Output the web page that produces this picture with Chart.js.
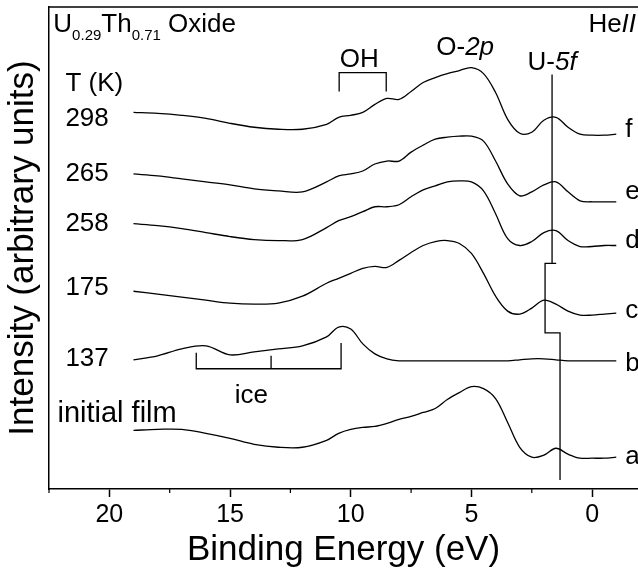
<!DOCTYPE html>
<html>
<head>
<meta charset="utf-8">
<script src="https://cdn.jsdelivr.net/npm/chart.js@4.4.1/dist/chart.umd.min.js"></script>
<style>
  html, body { margin:0; padding:0; background:#fff; }
  #wrap { width:638px; height:571px; }
</style>
</head>
<body>
<div id="wrap"><canvas id="spectra" width="638" height="571"></canvas></div>
<script>
const FONT = '"Liberation Sans", Arial, sans-serif';

// binding energy grid (eV)
const energy = [19,18,17,16,15,14,13,12,11,10.5,10,9.5,9,8.5,8,7.5,7,6.5,6,5.5,5,4.5,4,3.5,3,2.5,2,1.5,1,0.5,0,-0.5,-1];

// stacked intensities (arbitrary units), bottom to top
const spec_a = [59,60,60,56,51,45,42,42,49,56,60,62,63,66,70,73,77,81,90,97,103,101,91,67,42,32,34,41,35,31,31,31,32];
const spec_b = [130,134,141,144,135,138,141,144,153,163,161,146,136,131,129,129,129,129,129,129,129,129,129,129,130,131,131,130,129,129,129,129,129];
const spec_c = [199,196,193,190,187,186,187,194,207,212,217,222,224,223,230,238,245,249,250,247,237,217,194,179,176,182,190,186,179,175,175,176,177];
const spec_d = [267,265,262,258,254,251,250,251,263,270,274,279,284,284,286,294,301,305,309,310,309,300,277,252,245,249,258,260,250,244,244,245,245];
const spec_e = [317,315,312,309,306,302,300,299,309,315,317,320,327,330,330,339,346,352,354,355,355,350,330,307,295,299,306,309,299,290,289,289,289];
const spec_f = [379,378,376,373,368,364,362,362,367,374,376,379,387,393,392,400,409,414,418,421,424,418,399,372,358,359,371,374,364,357,356,356,357];

const letters = ['a','b','c','d','e','f'];
const temps = ['initial film','137','175','258','265','298'];

// marker lines (energy, intensity)
const u5fE = [1.66,1.66,1.49,1.95,1.95,1.33,1.33];
const u5fI = [417,227,227,227,157,157,9];
const ohE = [10.48,10.48,8.53,8.53];
const ohI = [400,419,419,400];
const iceE = [16.4,16.4,13.3,13.3,13.3,10.4,10.4];
const iceI = [137,121,121,134,121,121,147];

const xTicks = [20,15,10,5,0];
const xMinor = [22.5,17.5,12.5,7.5,2.5];

const pts = (xs, ys) => xs.map((v, i) => ({x: v, y: ys[i]}));

var spectra = [spec_a, spec_b, spec_c, spec_d, spec_e, spec_f];
var datasets = spectra.map(function(s) {
  return { data: pts(energy, s), borderColor:'#000', borderWidth:1.3, pointRadius:0, tension:0.35 };
});
[[u5fE,u5fI],[ohE,ohI],[iceE,iceI]].forEach(function(m) {
  datasets.push({ data: pts(m[0], m[1]), borderColor:'#000', borderWidth:1.3, pointRadius:0, tension:0 });
});

// text runs: [text, size, italic, dy]
function drawRuns(ctx, parts, x0, y0, align) {
  var w = 0;
  parts.forEach(function(p) {
    ctx.font = (p[2] ? 'italic ' : '') + p[1] + 'px ' + FONT;
    p.w = ctx.measureText(p[0]).width; w += p.w;
  });
  var x = align === 'right' ? x0 - w : align === 'center' ? x0 - w / 2 : x0;
  ctx.textAlign = 'left';
  parts.forEach(function(p) {
    ctx.font = (p[2] ? 'italic ' : '') + p[1] + 'px ' + FONT;
    ctx.fillText(p[0], x, y0 + (p[3] || 0));
    x += p.w;
  });
}

const annotate = {
  id: 'annotate',
  afterDraw(chart) {
    const {ctx, chartArea, scales: {x, y}} = chart;
    const px = v => x.getPixelForValue(v), py = v => y.getPixelForValue(v);
    ctx.save();
    ctx.strokeStyle = '#000';
    ctx.lineWidth = 1.5;
    // top frame
    ctx.beginPath(); ctx.moveTo(chartArea.left, chartArea.top); ctx.lineTo(chartArea.right, chartArea.top); ctx.stroke();
    // minor ticks
    ctx.lineWidth = 1.2;
    xMinor.forEach(v => {
      ctx.beginPath(); ctx.moveTo(px(v), chartArea.bottom); ctx.lineTo(px(v), chartArea.bottom + 4); ctx.stroke();
    });

    ctx.fillStyle = '#000';
    ctx.textBaseline = 'alphabetic';
    drawRuns(ctx, [['U',26],['0.29',15,false,8],['Th',26],['0.71',15,false,8],[' Oxide',26]], px(22.32), py(460), 'left');
    drawRuns(ctx, [['He',26],['II',26,true]], px(-1.82), py(460), 'right');
    drawRuns(ctx, [['T (K)',26]], px(21.82), py(400), 'left');

    var tY = [67,124,195,260,310,365];
    temps.forEach(function(t, i) {
      if (i === 0) drawRuns(ctx, [[t,29]], px(22.15), py(tY[i]), 'left');
      else drawRuns(ctx, [[t,26]], px(21.82), py(tY[i]), 'left');
    });
    var lY = [25,119,172,242,292,354];
    letters.forEach(function(l, i) { drawRuns(ctx, [[l,26]], px(-1.37), py(lY[i]), 'left'); });

    drawRuns(ctx, [['OH',26]], px(9.65), py(425), 'center');
    drawRuns(ctx, [['O-',26],['2p',26,true]], px(5.26), py(437), 'center');
    drawRuns(ctx, [['U-',26],['5f',26,true]], px(1.66), py(422), 'center');
    drawRuns(ctx, [['ice',26]], px(14.12), py(87), 'center');

    // y axis title
    ctx.translate(33, (chartArea.top + chartArea.bottom) / 2);
    ctx.rotate(-Math.PI / 2);
    ctx.font = '35px ' + FONT;
    ctx.textAlign = 'center';
    ctx.fillText('Intensity (arbitrary units)', 0, 0);
    ctx.restore();
  }
};

new Chart(document.getElementById('spectra'), {
  type: 'line',
  data: { datasets: datasets },
  options: {
    responsive: false,
    animation: false,
    devicePixelRatio: 1,
    layout: { padding: { left: 49, top: 7, right: 0, bottom: 0 } },
    plugins: { legend: { display: false }, tooltip: { enabled: false } },
    scales: {
      x: {
        type: 'linear', reverse: true, min: -1.9, max: 22.5,
        afterBuildTicks: function(ax) { ax.ticks = xTicks.map(v => ({value: v})); },
        ticks: { color: '#000', font: { family: FONT, size: 25 }, padding: 3, maxRotation: 0, autoSkip: false },
        grid: { display: true, drawOnChartArea: false, drawTicks: true, tickLength: 8, tickWidth: 1.5, tickColor: '#000' },
        border: { display: true, color: '#000', width: 1.5 },
        title: { display: true, text: 'Binding Energy (eV)', color: '#000', font: { family: FONT, size: 35, lineHeight: 1 }, padding: { top: 0, bottom: 3 } }
      },
      y: {
        type: 'linear', min: 0, max: 485,
        ticks: { display: false },
        grid: { display: false, drawTicks: false },
        border: { display: true, color: '#000', width: 1.5 }
      }
    }
  },
  plugins: [annotate]
});
</script>
</body>
</html>
